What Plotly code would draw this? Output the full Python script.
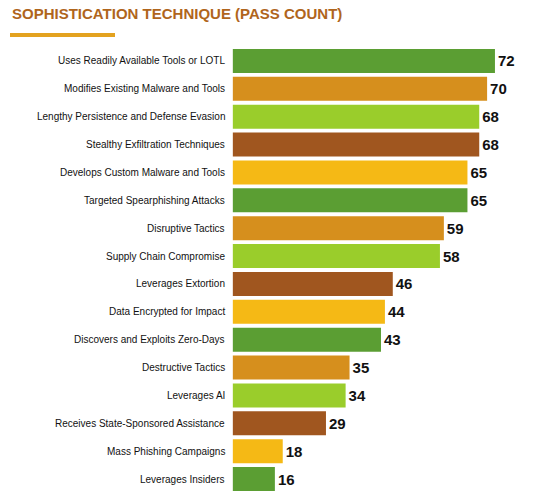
import plotly.graph_objects as go

categories = [
    "Uses Readily Available Tools or LOTL", "Modifies Existing Malware and Tools",
    "Lengthy Persistence and Defense Evasion", "Stealthy Exfiltration Techniques",
    "Develops Custom Malware and Tools", "Targeted Spearphishing Attacks",
    "Disruptive Tactics", "Supply Chain Compromise", "Leverages Extortion",
    "Data Encrypted for Impact", "Discovers and Exploits Zero-Days",
    "Destructive Tactics", "Leverages AI", "Receives State-Sponsored Assistance",
    "Mass Phishing Campaigns", "Leverages Insiders",
]
values = [72, 70, 68, 68, 65, 65, 59, 58, 46, 44, 43, 35, 34, 29, 18, 16]
palette = ["#5b9e33", "#d68f1d", "#9acd2b", "#a0561f", "#f5b915"]
colors = [palette[i % 5] for i in range(len(values))]

W, H = 537, 502
L, T, B = 204, 39, 17
BASE = 5.3  # bars start a little right of the axis origin
XMAX = (W - L) / 3.93

fig = go.Figure(go.Bar(
    y=categories, x=[v - BASE for v in values], base=BASE, orientation="h",
    marker=dict(color=colors, line=dict(width=0)), width=0.86,
    text=[str(v) for v in values], textposition="outside", cliponaxis=False,
    textfont=dict(family="Liberation Sans", size=15, color="#111"),
    texttemplate="<b>%{text}</b>",
))

for c in categories:
    fig.add_annotation(x=BASE, y=c, text=c, xanchor="right", xshift=-6, showarrow=False,
                       font=dict(family="Liberation Sans", size=10, color="#111"))

fig.add_annotation(xref="paper", yref="paper", x=(2 - L) / (W - L), y=1 + (T - 6) / (H - T - B),
                   xanchor="left", yanchor="middle", showarrow=False,
                   text="<b>SOPHISTICATION TECHNIQUE (PASS COUNT)</b>",
                   font=dict(family="Liberation Sans", size=15, color="#b0651c"))
fig.add_shape(type="rect", xref="paper", yref="paper", line=dict(width=0), fillcolor="#e3a21f",
              x0=(2 - L) / (W - L), x1=(107 - L) / (W - L),
              y0=1 + (T - 29) / (H - T - B), y1=1 + (T - 25) / (H - T - B))

fig.update_layout(
    width=W, height=H, margin=dict(l=L, r=0, t=T, b=B),
    plot_bgcolor="white", paper_bgcolor="white", showlegend=False,
    xaxis=dict(range=[0, XMAX], visible=False),
    yaxis=dict(autorange="reversed", showticklabels=False, showgrid=False, zeroline=False),
    bargap=0.14,
)
fig.write_html("out.html")
